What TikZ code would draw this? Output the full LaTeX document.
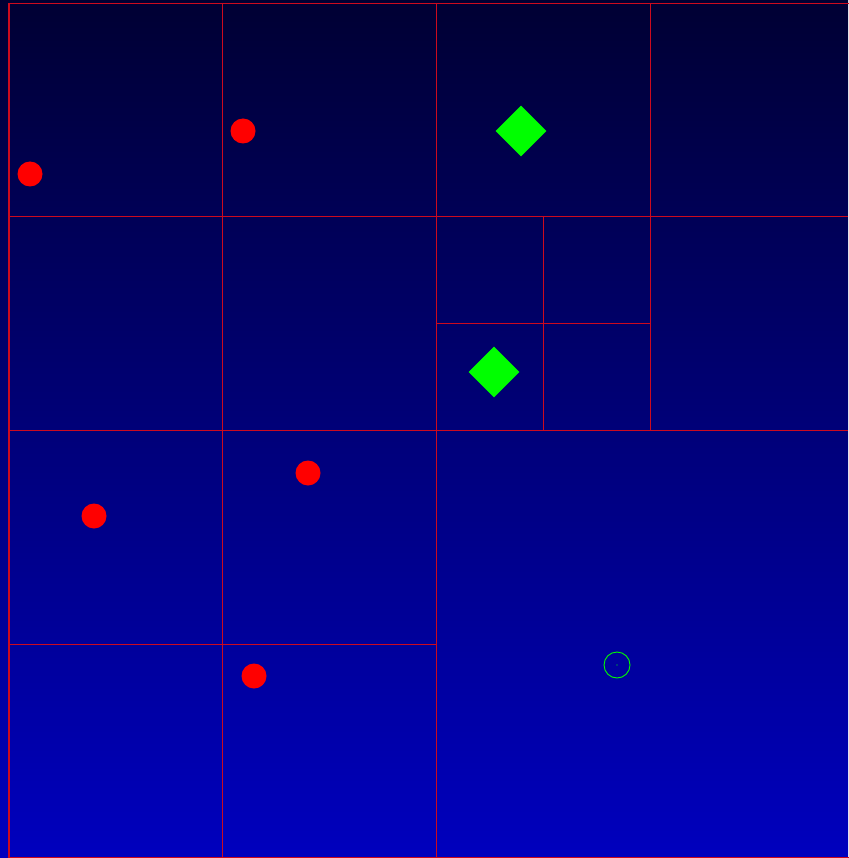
\documentclass[tikz,border=0pt]{standalone}
\usetikzlibrary{shapes.geometric}
\definecolor{bgtop}{HTML}{000033}
\definecolor{bgbottom}{HTML}{0000BE}
\definecolor{cellred}{HTML}{CC0A1E}
\definecolor{dotred}{HTML}{FF0000}
\definecolor{hitgreen}{HTML}{00FF00}

\begin{document}
\begin{tikzpicture}[
  x=1pt, y=-1pt,
  cell/.style={draw=cellred, line width=1pt},
  pt/.style={circle, fill=dotred, inner sep=0pt, minimum size=25pt},
  hit/.style={diamond, fill=hitgreen, inner sep=0pt, minimum size=51pt},
  query/.style={circle, draw=hitgreen, line width=0.9pt, inner sep=0pt, minimum size=26pt}
]
\useasboundingbox (0,0) rectangle (848,858);
\shade[top color=bgtop, bottom color=bgbottom] (0,0) rectangle (848,858);

% quadtree cells
\draw[cell] (8.5,3.5) rectangle (864,857.5);
\draw[cell, line width=2pt] (9,3) -- (9,858);
\draw[cell] (222.5,3) -- (222.5,858);
\draw[cell] (436.5,3) -- (436.5,858);
\draw[cell] (650.5,3) -- (650.5,430);
\draw[cell] (543,216) -- (543,430);
\draw[cell] (8,216.5) -- (848,216.5);
\draw[cell] (8,430.5) -- (848,430.5);
\draw[cell] (8,644.5) -- (436,644.5);
\draw[cell] (436,323) -- (650,323);

% stored points
\foreach \x/\y [count=\i] in {30/174, 243/131, 94/516, 308/473, 254/676}
  \node[pt] (p\i) at (\x,\y) {};

% points found
\node[hit] (h1) at (521,131) {};
\node[hit] (h2) at (494,372) {};

% query
\node[query] (q) at (617,665) {};
\fill[hitgreen] (q.center) circle (0.6pt);
\end{tikzpicture}
\end{document}
